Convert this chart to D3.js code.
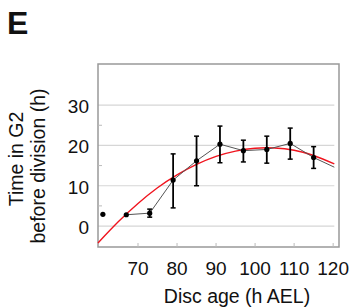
<!DOCTYPE html>
<html>
<head>
<meta charset="utf-8">
<script src="https://cdn.jsdelivr.net/npm/d3@7"></script>
<style>
  body { margin: 0; background: #fff; }
  text { font-family: "Liberation Sans", Arial, sans-serif; fill: #111; }
</style>
</head>
<body>
<div id="area"></div>
<script>
// measured points (disc age, time in G2, error bar low / high)
var ages = [61, 67, 73, 79, 85, 91, 97, 103, 109, 115];
var g2 = [2.9, 2.8, 3.2, 11.4, 16.2, 20.3, 18.7, 19.0, 20.5, 17.0];
var errLow = [null, null, 2.2, 4.5, 10.0, 15.7, 15.9, 15.6, 16.6, 14.3];
var errHigh = [null, null, 4.2, 17.9, 22.3, 24.8, 21.3, 22.3, 24.3, 19.7];
// connecting line (first point is not joined), runs on past the last point
var lineAges = [67, 73, 79, 85, 91, 97, 103, 109, 115, 120.3];
var lineG2 = [2.8, 3.2, 11.4, 16.2, 20.3, 18.7, 19.0, 20.5, 17.0, 14.6];
// red fit curve
var fitAges = [59.75, 65, 70, 75, 80, 85, 90, 95, 100, 105, 110, 115, 120.3];
var fitG2 = [-4.2, 1.1, 5.6, 9.5, 12.7, 15.3, 17.3, 18.6, 19.3, 19.35, 18.8, 17.5, 15.4];
var xTicks = [70, 80, 90, 100, 110, 120];
var yTicks = [0, 10, 20, 30];
var yMinor = [5, 15, 25];

var width = 355, height = 308;
var svg = d3.select("#area").append("svg")
  .attr("width", width).attr("height", height);

var x = d3.scaleLinear().domain([59.75, 121.5]).range([98, 339]);
var y = d3.scaleLinear().domain([-5.2, 40.2]).range([247, 64]);
var gridEnd = x(120.3);

// gridlines
svg.selectAll(".grid").data(yTicks).enter().append("line")
  .attr("x1", x.range()[0]).attr("x2", gridEnd)
  .attr("y1", d => y(d)).attr("y2", d => y(d))
  .attr("stroke", "#d6d6d6").attr("stroke-width", 1.2);

// frame
svg.append("rect")
  .attr("x", 98).attr("y", 64)
  .attr("width", 339 - 98).attr("height", 247 - 64)
  .attr("fill", "none").attr("stroke", "#999").attr("stroke-width", 1.5);

// ticks pointing inward
svg.selectAll(".xt").data(xTicks).enter().append("line")
  .attr("x1", d => x(d)).attr("x2", d => x(d))
  .attr("y1", 247).attr("y2", 243)
  .attr("stroke", "#bbb");
svg.selectAll(".ym").data(yMinor).enter().append("line")
  .attr("x1", 98).attr("x2", 102)
  .attr("y1", d => y(d)).attr("y2", d => y(d))
  .attr("stroke", "#bbb");

// tick labels
svg.selectAll(".xl").data(xTicks).enter().append("text")
  .attr("x", d => x(d)).attr("y", 275)
  .attr("text-anchor", "middle").style("font-size", "19px")
  .text(d => d);
svg.selectAll(".yl").data(yTicks).enter().append("text")
  .attr("x", 89).attr("y", d => y(d) + 8)
  .attr("text-anchor", "end").style("font-size", "19px")
  .text(d => d);

// titles
svg.append("text").attr("x", 237).attr("y", 303)
  .attr("text-anchor", "middle").style("font-size", "19.5px")
  .text("Disc age (h AEL)");
svg.append("text").attr("transform", "translate(23,159) rotate(-90)")
  .attr("text-anchor", "middle").style("font-size", "19.5px")
  .text("Time in G2");
svg.append("text").attr("transform", "translate(45,166) rotate(-90)")
  .attr("text-anchor", "middle").style("font-size", "19.5px")
  .text("before division (h)");
svg.append("text").attr("x", 7).attr("y", 34)
  .style("font-size", "32px").style("font-weight", "bold")
  .text("E");

// red fit
var fitLine = d3.line().curve(d3.curveNatural)
  .x((d, i) => x(fitAges[i])).y(d => y(d));
svg.append("path").attr("d", fitLine(fitG2))
  .attr("fill", "none").attr("stroke", "#f0141e").attr("stroke-width", 1.4);

// gray connecting line
var conn = d3.line().x((d, i) => x(lineAges[i])).y(d => y(d));
svg.append("path").attr("d", conn(lineG2))
  .attr("fill", "none").attr("stroke", "#555").attr("stroke-width", 1);

// error bars
var pts = ages.map((a, i) => ({ a: a, v: g2[i], lo: errLow[i], hi: errHigh[i] }));
var eb = svg.selectAll(".eb").data(pts.filter(d => d.lo !== null)).enter().append("g");
eb.append("line")
  .attr("x1", d => x(d.a)).attr("x2", d => x(d.a))
  .attr("y1", d => y(d.lo)).attr("y2", d => y(d.hi))
  .attr("stroke", "#000").attr("stroke-width", 1.8);
eb.append("line")
  .attr("x1", d => x(d.a) - 2.5).attr("x2", d => x(d.a) + 2.5)
  .attr("y1", d => y(d.lo)).attr("y2", d => y(d.lo))
  .attr("stroke", "#000").attr("stroke-width", 1.5);
eb.append("line")
  .attr("x1", d => x(d.a) - 2.5).attr("x2", d => x(d.a) + 2.5)
  .attr("y1", d => y(d.hi)).attr("y2", d => y(d.hi))
  .attr("stroke", "#000").attr("stroke-width", 1.5);

// markers
svg.selectAll(".pt").data(pts).enter().append("circle")
  .attr("cx", d => x(d.a)).attr("cy", d => y(d.v))
  .attr("r", 2.6).attr("fill", "#000");
</script>
</body>
</html>
